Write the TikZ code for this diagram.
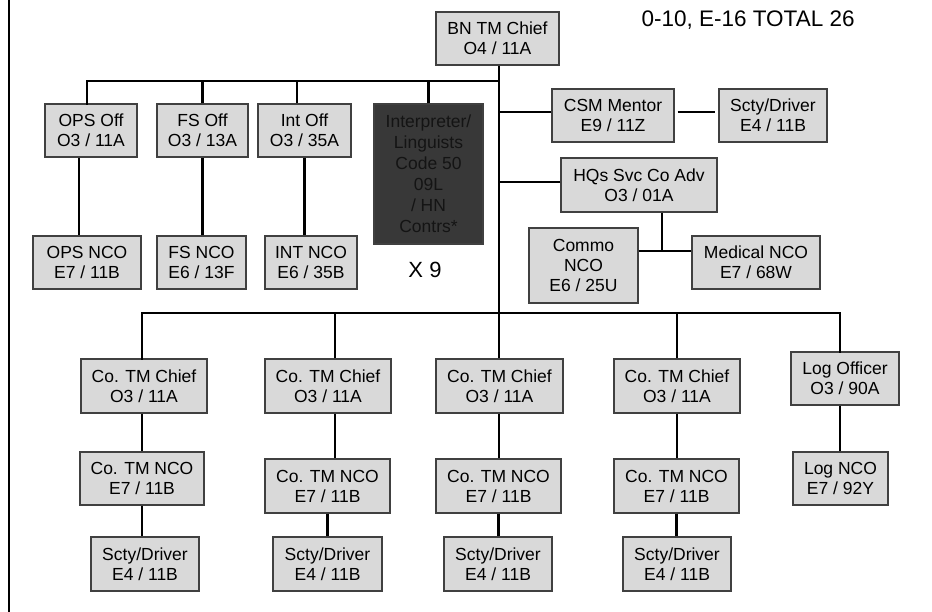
\documentclass[tikz,border=0pt]{standalone}
\usepackage{fontspec}
\setmainfont{Liberation Sans}
\definecolor{boxgray}{HTML}{D9D9D9}
\definecolor{darkbox}{HTML}{383838}
\definecolor{boxline}{HTML}{404040}
\begin{document}
\begin{tikzpicture}[x=1pt,y=-1pt,
  box/.style={draw=boxline,line width=1.2pt,fill=boxgray,inner sep=0pt,align=center,
    font=\fontsize{17.5}{20}\selectfont},
  darkbx/.style={box,fill=darkbox,font=\fontsize{17.5}{21}\selectfont,text=black!92},
  conn/.style={line width=2.6pt,line cap=rect}]
\useasboundingbox (0,0) rectangle (932,612);
\fill[white] (0,0) rectangle (932,612);
\draw[line width=2pt] (9,0) -- (9,612);

% top level
\node[box,minimum width=123pt,minimum height=53pt] (bn) at (497.5,38.5) {BN TM Chief\\O4 / 11A};
\node[anchor=base west,font=\fontsize{22.5}{27}\selectfont] (title) at (638,27) {0-10, E-16 TOTAL 26};

% staff row
\node[box,minimum width=92pt,minimum height=53pt] (ops) at (91,130.5) {OPS Off\\O3 / 11A};
\node[box,minimum width=91pt,minimum height=53pt] (fs) at (202.5,130.5) {FS Off\\O3 / 13A};
\node[box,minimum width=93pt,minimum height=53pt] (int) at (304.5,130.5) {Int Off\\O3 / 35A};
\node[darkbx,minimum width=109pt,minimum height=140pt] (interp) at (428.5,174) {Interpreter/\\Linguists\\Code 50\\09L\\/ HN\\Contrs*};
\node[anchor=base,font=\fontsize{22}{26}\selectfont] (x9) at (425,278) {X 9};

\node[box,minimum width=108pt,minimum height=53pt] (opsn) at (87,262.5) {OPS NCO\\E7 / 11B};
\node[box,minimum width=89pt,minimum height=53pt] (fsn) at (201.5,262.5) {FS NCO\\E6 / 13F};
\node[box,minimum width=92pt,minimum height=53pt] (intn) at (311,262.5) {INT NCO\\E6 / 35B};

% right staff
\node[box,minimum width=122pt,minimum height=53pt] (csm) at (613,115.5) {CSM Mentor\\E9 / 11Z};
\node[box,minimum width=108pt,minimum height=53pt] (sd0) at (773,115.5) {Scty/Driver\\E4 / 11B};
\node[box,minimum width=156pt,minimum height=54pt] (hqs) at (639,185) {HQs Svc Co Adv\\O3 / 01A};
\node[box,minimum width=109pt,minimum height=75pt] (commo) at (583.5,265.5) {Commo\\NCO\\E6 / 25U};
\node[box,minimum width=128pt,minimum height=53pt] (med) at (756,262.5) {Medical NCO\\E7 / 68W};

% companies
\node[box,minimum width=126pt,minimum height=54pt] (co1) at (144,386) {Co. TM Chief\\O3 / 11A};
\node[box,minimum width=126pt,minimum height=54pt] (co2) at (328,386) {Co. TM Chief\\O3 / 11A};
\node[box,minimum width=127pt,minimum height=54pt] (co3) at (499.5,386) {Co. TM Chief\\O3 / 11A};
\node[box,minimum width=126pt,minimum height=54pt] (co4) at (677,386) {Co. TM Chief\\O3 / 11A};
\node[box,minimum width=108pt,minimum height=53pt] (log) at (845,378.5) {Log Officer\\O3 / 90A};

\node[box,minimum width=124pt,minimum height=53pt] (nco1) at (142,478.5) {Co. TM NCO\\E7 / 11B};
\node[box,minimum width=125pt,minimum height=54pt] (nco2) at (327.5,486) {Co. TM NCO\\E7 / 11B};
\node[box,minimum width=125pt,minimum height=54pt] (nco3) at (498.5,486) {Co. TM NCO\\E7 / 11B};
\node[box,minimum width=125pt,minimum height=54pt] (nco4) at (676.5,486) {Co. TM NCO\\E7 / 11B};
\node[box,minimum width=95pt,minimum height=53pt] (lognco) at (840.5,478.5) {Log NCO\\E7 / 92Y};

\node[box,minimum width=108pt,minimum height=54pt] (sd1) at (145,564) {Scty/Driver\\E4 / 11B};
\node[box,minimum width=109pt,minimum height=54pt] (sd2) at (327.5,564) {Scty/Driver\\E4 / 11B};
\node[box,minimum width=108pt,minimum height=54pt] (sd3) at (498,564) {Scty/Driver\\E4 / 11B};
\node[box,minimum width=108pt,minimum height=54pt] (sd4) at (677,564) {Scty/Driver\\E4 / 11B};

% connectors
\coordinate (tbus) at (499,81);
\coordinate (bbus) at (499,313);
\coordinate (mj) at (662,251);

\draw[conn,line cap=butt] (bn.south -| bbus) -- (bbus);
\draw[conn] ([xshift=-4pt]ops.north) |- (tbus);
\draw[conn,line cap=butt] (fs.north) -- (fs.north |- tbus);
\draw[conn,line cap=butt] ([xshift=-7.5pt]int.north) -- ([xshift=-7.5pt]int.north |- tbus);
\draw[conn,line cap=butt] (interp.north) -- (interp.north |- tbus);
\draw[conn,line cap=butt] ([xshift=-12pt]ops.south) -- ([xshift=-12pt]ops.south |- opsn.north);
\draw[conn,line cap=butt] (fs.south) -- (fs.south |- fsn.north);
\draw[conn,line cap=butt] (int.south) -- (int.south |- intn.north);

\draw[conn,line cap=butt] ([yshift=3.5pt]csm.west) -- ([yshift=3.5pt]csm.west -| bbus);
\draw[conn,line cap=butt] ([xshift=3pt,yshift=3.5pt]csm.east) -- ([xshift=-3pt,yshift=3.5pt]sd0.west);
\draw[conn,line cap=butt] ([yshift=3pt]hqs.west) -- ([yshift=3pt]hqs.west -| bbus);
\draw[conn,line cap=butt] (hqs.south -| mj) -- (mj);
\draw[conn,line cap=butt] (commo.east |- mj) -- (med.west |- mj);

\draw[conn] ([xshift=-2pt]co1.north) |- (bbus);
\draw[conn] ([xshift=-5pt]log.north) |- (bbus);
\draw[conn,line cap=butt] ([xshift=7pt]co2.north) -- ([xshift=7pt]co2.north |- bbus);
\draw[conn,line cap=butt] (bbus) -- (co3.north -| bbus);
\draw[conn,line cap=butt] (co4.north) -- (co4.north |- bbus);

\draw[conn,line cap=butt] ([xshift=-2pt]co1.south) -- ([xshift=-2pt]co1.south |- nco1.north);
\draw[conn,line cap=butt] ([xshift=7pt]co2.south) -- ([xshift=7pt]co2.south |- nco2.north);
\draw[conn,line cap=butt] (co3.south -| bbus) -- (nco3.north -| bbus);
\draw[conn,line cap=butt] (co4.south) -- (co4.south |- nco4.north);
\draw[conn,line cap=butt] ([xshift=-5pt]log.south) -- ([xshift=-5pt]log.south |- lognco.north);

\draw[conn,line cap=butt] (nco1.south) -- (nco1.south |- sd1.north);
\draw[conn,line cap=butt] (nco2.south) -- (nco2.south |- sd2.north);
\draw[conn,line cap=butt] (nco3.south) -- (nco3.south |- sd3.north);
\draw[conn,line cap=butt] (nco4.south) -- (nco4.south |- sd4.north);
\end{tikzpicture}
\end{document}
